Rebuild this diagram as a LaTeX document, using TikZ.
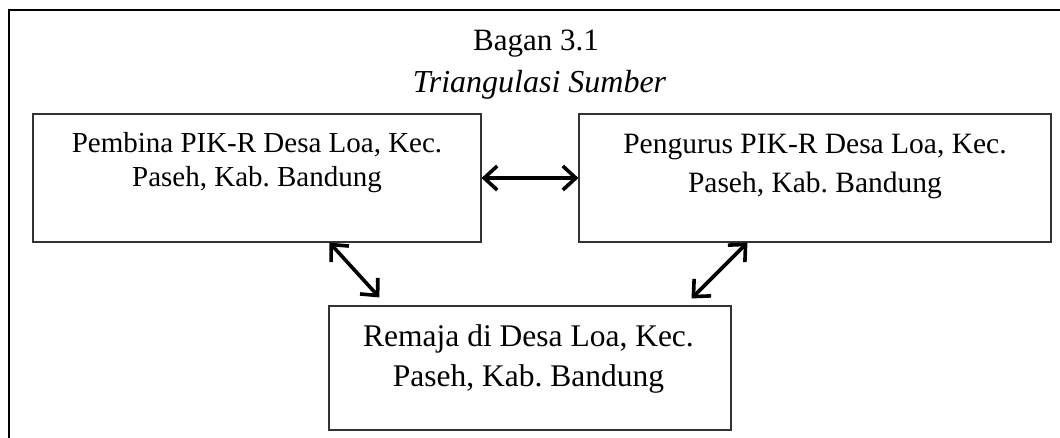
\documentclass[tikz,border=0pt]{standalone}
\usepackage{fontspec}
\setmainfont{Liberation Serif}
\usetikzlibrary{arrows.meta}
\frenchspacing
\begin{document}
\begin{tikzpicture}[x=1pt,y=-1pt,
  boxstyle/.style={draw=black!80, line width=1.1pt, inner sep=0pt, rectangle},
  txtstyle/.style={inner sep=0pt, align=center, anchor=north},
  dblarrow/.style={line width=3.6pt, line cap=round, line join=round,
    {Straight Barb[length=13pt,width=24pt,line width=3.6pt]}-{Straight Barb[length=13pt,width=24pt,line width=3.6pt]}}]
\useasboundingbox (0,0) rectangle (1060,437);
% outer frame (right and bottom sides lie outside the picture)
\draw[line width=2.2pt] (1064,10) -- (9,10) -- (9,441);
% titles
\node[inner sep=0pt, anchor=base, font=\fontsize{31}{36}\selectfont] (title) at (536,50) {Bagan 3.1};
\node[inner sep=0pt, anchor=base, font=\fontsize{32}{36}\selectfont\itshape] (subtitle) at (539.5,92) {Triangulasi Sumber};
% boxes
\node[boxstyle, minimum width=448pt, minimum height=128pt] (b1) at (257,178) {};
\node[boxstyle, minimum width=472pt, minimum height=128pt] (b2) at (815,178) {};
\node[boxstyle, minimum width=402pt, minimum height=124pt] (b3) at (530,368) {};
% box texts
\node[txtstyle, font=\fontsize{29}{34}\selectfont] (b1t) at (257,132) {Pembina PIK-R Desa Loa, Kec.\\Paseh, Kab. Bandung};
\node[txtstyle, font=\fontsize{29.5}{39}\selectfont] (b2t) at (815,133.5) {Pengurus PIK-R Desa Loa, Kec.\\Paseh, Kab. Bandung};
\node[txtstyle, font=\fontsize{31.5}{40}\selectfont] (b3t) at (528.5,324.5) {Remaja di Desa Loa, Kec.\\Paseh, Kab. Bandung};
% arrow end points
\coordinate (a1s) at ([xshift=297pt]b1.south west);
\coordinate (a1e) at ([xshift=51pt,yshift=8pt]b3.north west);
\coordinate (a2s) at ([xshift=169pt]b2.south west);
\coordinate (a2e) at ([xshift=-40pt,yshift=7pt]b3.north east);
% arrows
\draw[dblarrow] (b1.east) -- (b2.west);
\draw[dblarrow] (a1s) -- (a1e);
\draw[dblarrow] (a2s) -- (a2e);
\end{tikzpicture}
\end{document}
